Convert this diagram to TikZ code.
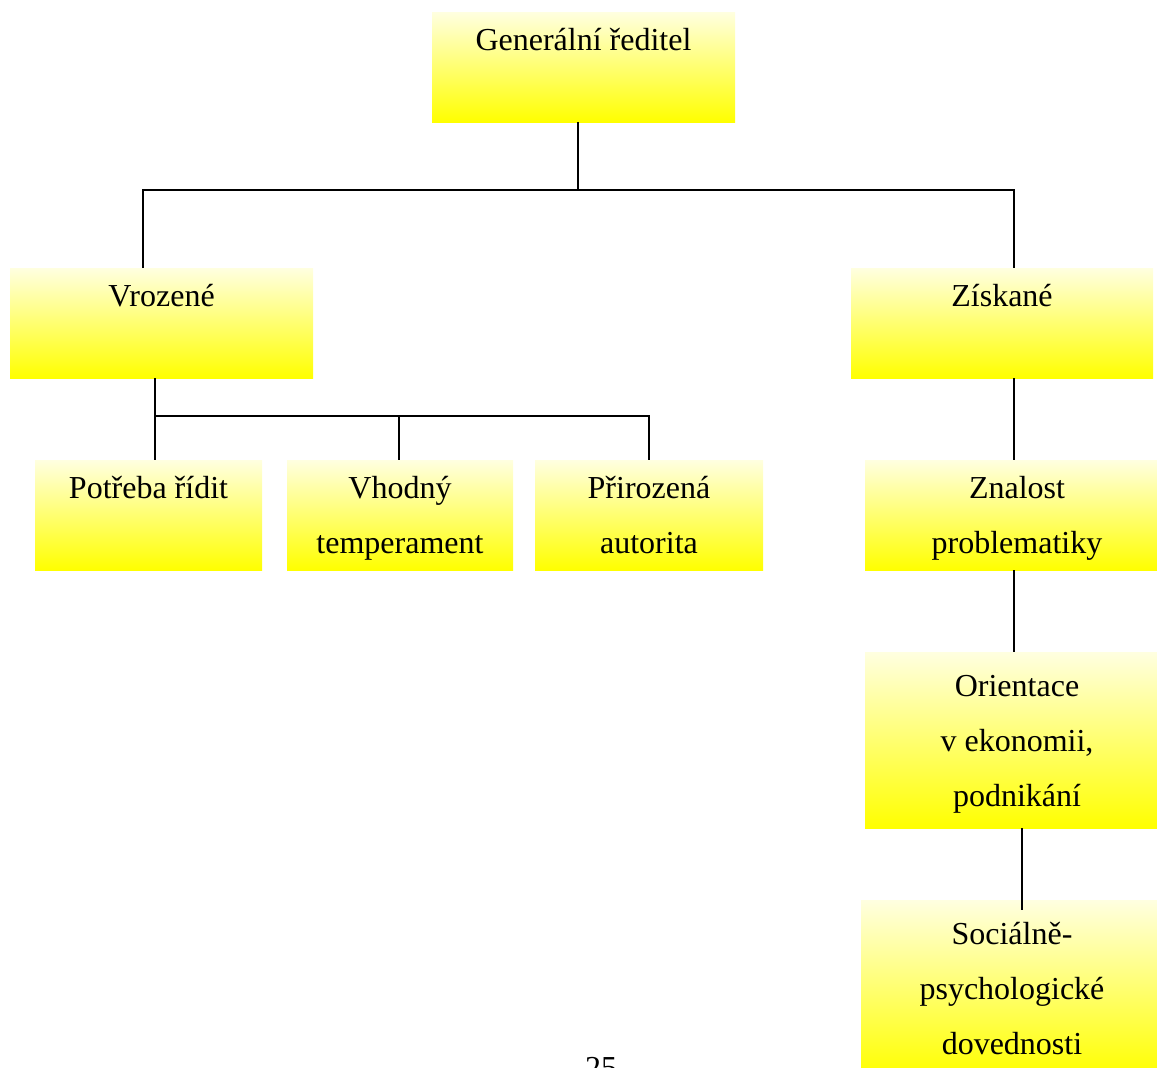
\documentclass[tikz,border=0pt]{standalone}
\usepackage{fontspec}
\setmainfont{Liberation Serif}
\begin{document}
\begin{tikzpicture}[x=1pt, y=-1pt,
    box/.style={anchor=north west, inner sep=0, outer sep=0, align=center,
      top color=yellow!12, bottom color=yellow, font=\fontsize{32}{55}\selectfont},
    conn/.style={line width=1.6pt}
  ]
  \useasboundingbox (0,0) rectangle (1157,1068);
  \node[box, minimum width=303, minimum height=110] (gen) at (432,12) {\strut Generální ředitel\\\strut};
  \node[box, minimum width=303, minimum height=110] (vroz) at (10,268) {\strut Vrozené\\\strut};
  \node[box, minimum width=302, minimum height=110] (zisk) at (851,268) {\strut Získané\\\strut};
  \node[box, minimum width=227, minimum height=110] (pot) at (35,460) {\strut Potřeba řídit\\\strut};
  \node[box, minimum width=226, minimum height=110] (temp) at (287,460) {\strut Vhodný\\\strut temperament};
  \node[box, minimum width=228, minimum height=110] (aut) at (535,460) {\strut Přirozená\\\strut autorita};
  \node[box, minimum width=304, minimum height=110] (znal) at (865,460) {\strut Znalost\\\strut problematiky};
  \node[box, minimum width=304, minimum height=176] (orient) at (865,652) {\strut Orientace\\\strut v ekonomii,\\\strut podnikání};
  \node[box, minimum width=302, minimum height=176] (soc) at (861,900) {\strut Sociálně-\\\strut psychologické\\\strut dovednosti};
  \node[anchor=base, font=\fontsize{32}{38}\selectfont] (pg) at (601,1078) {25};
  \coordinate (j0) at (578,190);
  \coordinate (jl) at (143,190);
  \coordinate (jr) at (1014,190);
  \draw[conn] (gen.south -| j0) -- (j0);
  \draw[conn] (vroz.north -| jl) -- (jl) -- (jr) -- (zisk.north -| jr);
  \coordinate (k0) at (155,416);
  \coordinate (km) at (399,416);
  \coordinate (kr) at (649,416);
  \draw[conn] (vroz.south -| k0) -- (k0) -- (pot.north -| k0);
  \draw[conn] (k0) -- (kr) -- (aut.north -| kr);
  \draw[conn] (km) -- (temp.north -| km);
  \coordinate (m) at (1014,0);
  \draw[conn] (zisk.south -| m) -- (znal.north -| m);
  \draw[conn] (znal.south -| m) -- (orient.north -| m);
  \coordinate (n) at (1022,0);
  \coordinate (n2) at (1022,910);
  \draw[conn] (orient.south -| n) -- (n2);
\end{tikzpicture}
\end{document}
